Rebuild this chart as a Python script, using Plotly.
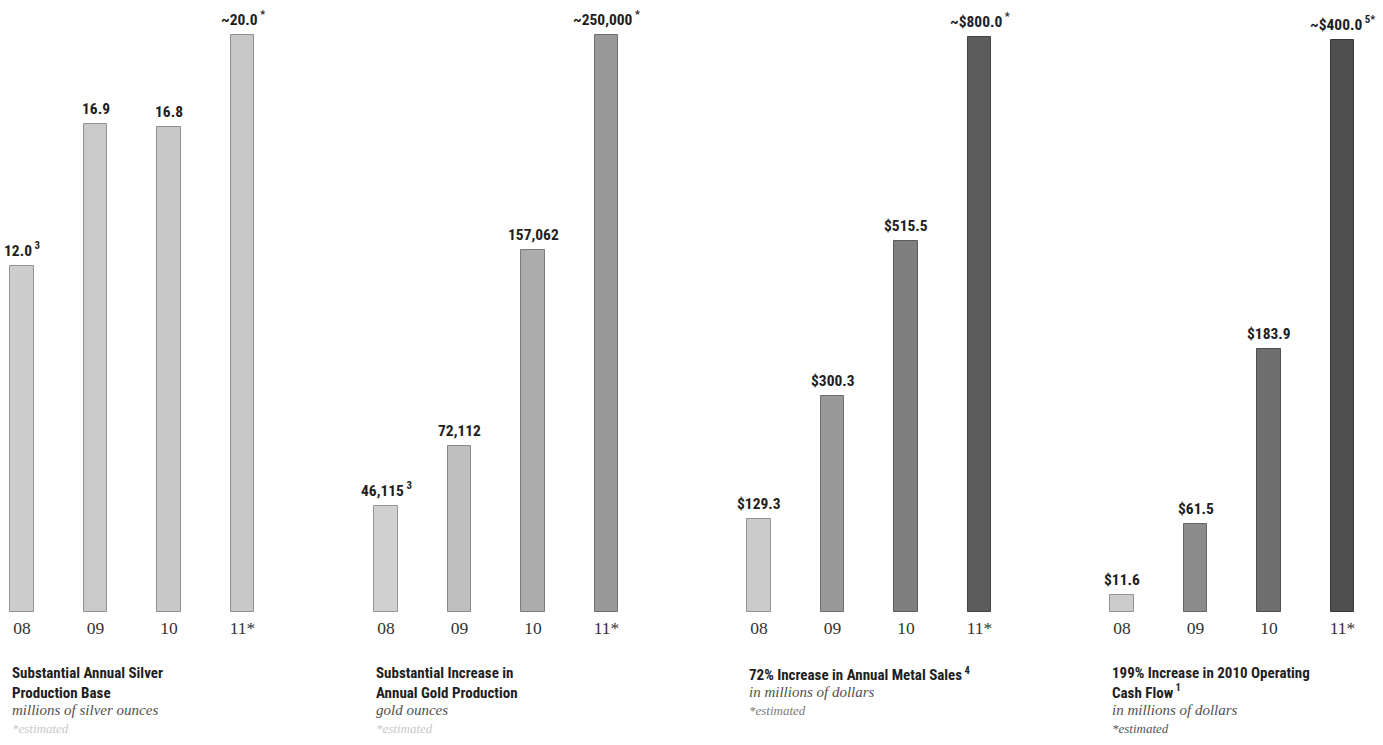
import plotly.graph_objects as go

# ---------------- data ----------------
years = ["08", "09", "10", "11*"]

silver_values = [12.0, 16.9, 16.8, 20.0]
silver_labels = ["12.0<sup> 3</sup>", "16.9", "16.8", "~20.0<sup> *</sup>"]

gold_values = [46115, 72112, 157062, 250000]
gold_labels = ["46,115<sup> 3</sup>", "72,112", "157,062", "~250,000<sup> *</sup>"]

sales_values = [129.3, 300.3, 515.5, 800.0]
sales_labels = ["$129.3", "$300.3", "$515.5", "~$800.0<sup> *</sup>"]

cash_values = [11.6, 61.5, 183.9, 400.0]
cash_labels = ["$11.6", "$61.5", "$183.9", "~$400.0<sup> 5*</sup>"]

titles = [
    "Substantial Annual Silver<br>Production Base",
    "Substantial Increase in<br>Annual Gold Production",
    "72% Increase in Annual Metal Sales<sup> 4</sup>",
    "199% Increase in 2010 Operating<br>Cash Flow<sup> 1</sup>",
]
subtitles = ["millions of silver ounces", "gold ounces",
             "in millions of dollars", "in millions of dollars"]
notes = ["*estimated"] * 4

# ---------------- styling ----------------
W, H = 1383, 745
bar_colors = [
    ["#cdcdcd", "#cacaca", "#c8c8c8", "#c8c8c8"],
    ["#d0d0d0", "#bfbfbf", "#acacac", "#999999"],
    ["#cbcbcb", "#999999", "#7f7f7f", "#5c5c5c"],
    ["#cccccc", "#8c8c8c", "#6e6e6e", "#4f4f4f"],
]
note_colors = ["#c8c8c8", "#c8c8c8", "#7a7a7a", "#555555"]
first_center = [22, 386, 759, 1122]
unit = 73.5
panel_w = 280
bottom_px = 612
top_px = [35, 35, 37, 40]

series = [(silver_values, silver_labels), (gold_values, gold_labels),
          (sales_values, sales_labels), (cash_values, cash_labels)]

COND = "Roboto Condensed, DejaVu Sans Condensed, Liberation Sans Narrow, Arial Narrow, Roboto, sans-serif"
SERIF = "Liberation Serif, DejaVu Serif, serif"

fig = go.Figure()
annotations = []


def darker(hexc, f=0.72):
    v = int(hexc[1:3], 16)
    d = int(v * f)
    return "#%02x%02x%02x" % (d, d, d)


ydom_bottom = (H - bottom_px) / H
xpos = list(range(len(years)))
for i, (vals, labs) in enumerate(series):
    ax = "" if i == 0 else str(i + 1)
    cols = bar_colors[i]
    fig.add_trace(go.Bar(
        x=xpos, y=vals, width=0.32,
        marker=dict(
            color=cols,
            line=dict(color=[darker(c, 0.72) for c in cols], width=1),
        ),
        xaxis="x" + ax, yaxis="y" + ax, showlegend=False,
        hoverinfo="skip",
    ))
    for xj, v, lab in zip(xpos, vals, labs):
        annotations.append(dict(
            x=xj, y=v, xref="x" + ax, yref="y" + ax, text=lab,
            showarrow=False, yanchor="bottom", yshift=4,
            font=dict(family=COND, size=15.5, color="#1e1e1e", weight="bold"),
        ))
    c0 = first_center[i]
    left = c0 - 22
    right = left + panel_w
    x_lo = -22 / unit
    x_hi = (panel_w - 22) / unit
    span = bottom_px - top_px[i]
    y_hi = max(vals) * bottom_px / span
    fig.update_layout(**{
        "xaxis" + ax: dict(domain=[left / W, right / W], range=[x_lo, x_hi],
                           tickvals=xpos, ticktext=years,
                           showgrid=False, zeroline=False,
                           showline=False, ticks="", ticklabelstandoff=3,
                           tickfont=dict(family=SERIF, size=17.5, color="#333333"),
                           anchor="y" + ax, fixedrange=True),
        "yaxis" + ax: dict(domain=[ydom_bottom, 1], range=[0, y_hi], visible=False,
                           anchor="x" + ax, fixedrange=True),
    })

    # text block under each panel
    tx = (left + 10) / W if i > 0 else 10 / W
    title_lines = titles[i].count("<br>") + 1
    y_title_top = 662
    annotations.append(dict(
        x=tx, y=1 - y_title_top / H, xref="paper", yref="paper",
        xanchor="left", yanchor="top", align="left", showarrow=False,
        text=titles[i],
        font=dict(family=COND, size=15, color="#1e1e1e", weight="bold"),
    ))
    y_sub = y_title_top + 18.5 * title_lines + 1
    annotations.append(dict(
        x=tx, y=1 - y_sub / H, xref="paper", yref="paper",
        xanchor="left", yanchor="top", align="left", showarrow=False,
        text="<i>" + subtitles[i] + "</i>",
        font=dict(family=SERIF, size=15, color="#505050"),
    ))
    annotations.append(dict(
        x=tx, y=1 - (y_sub + 19) / H, xref="paper", yref="paper",
        xanchor="left", yanchor="top", align="left", showarrow=False,
        text="<i>" + notes[i] + "</i>",
        font=dict(family=SERIF, size=13, color=note_colors[i]),
    ))

fig.update_layout(
    width=W, height=H,
    margin=dict(l=0, r=0, t=0, b=0),
    paper_bgcolor="white", plot_bgcolor="white",
    annotations=annotations,
    bargap=0,
)

fig.write_html("out.html", config={"displayModeBar": False},
               post_script="document.body.style.margin='0';document.body.style.overflow='hidden';")
